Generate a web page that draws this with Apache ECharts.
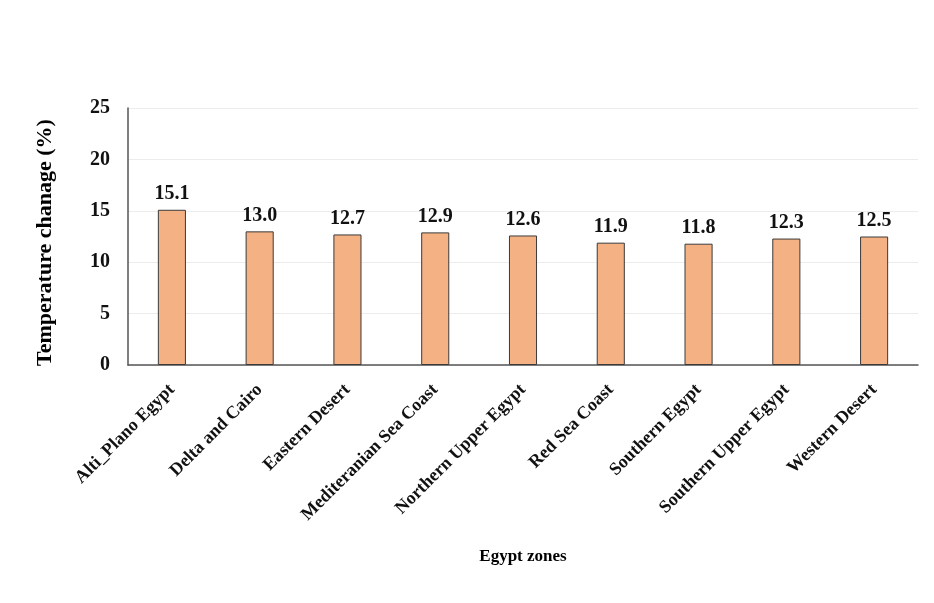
<!DOCTYPE html>
<html>
<head>
<meta charset="utf-8">
<script src="https://cdn.jsdelivr.net/npm/echarts@6/dist/echarts.min.js"></script>
<style>
  html, body { margin: 0; padding: 0; background: #ffffff; }
  #chart { width: 934px; height: 603px; }
</style>
</head>
<body>
<div id="chart"></div>
<script>
// Egypt zones and their temperature change (%)
const zones = [
  'Alti_Plano Egypt', 'Delta and Cairo', 'Eastern Desert', 'Mediteranian Sea Coast',
  'Northern Upper Egypt', 'Red Sea Coast', 'Southern Egypt', 'Southern Upper Egypt', 'Western Desert'
];
const tempChange = [15.1, 13.0, 12.7, 12.9, 12.6, 11.9, 11.8, 12.3, 12.5];
const yTicks = [0, 5, 10, 15, 20, 25];

const serif = '"Liberation Serif", "Times New Roman", serif';

const chart = echarts.init(document.getElementById('chart'));
chart.setOption({
  backgroundColor: '#ffffff',
  animation: false,
  grid: { left: 128, right: 16, top: 108, bottom: 238, containLabel: false },
  xAxis: {
    type: 'category',
    data: zones,
    name: 'Egypt zones',
    nameLocation: 'middle',
    nameGap: 183,
    nameTextStyle: { fontFamily: serif, fontWeight: 'bold', fontSize: 17, color: '#000' },
    axisLine: { lineStyle: { color: '#555', width: 1.5 } },
    axisTick: { show: false },
    axisLabel: {
      rotate: 45, interval: 0, margin: 22,
      fontFamily: serif, fontWeight: 'bold', fontSize: 18, color: '#111'
    }
  },
  yAxis: {
    type: 'value',
    min: yTicks[0],
    max: yTicks[yTicks.length - 1],
    interval: 5,
    name: 'Temperature chanage (%)',
    nameLocation: 'middle',
    nameGap: 72,
    nameTextStyle: { fontFamily: serif, fontWeight: 'bold', fontSize: 22, color: '#000', padding: [0, 12, 0, 0] },
    axisLine: { show: true, lineStyle: { color: '#555', width: 1.5 } },
    axisTick: { show: false },
    axisLabel: { fontFamily: serif, fontWeight: 'bold', fontSize: 20, color: '#111', margin: 18 },
    splitLine: { show: true, lineStyle: { color: '#ececec', width: 1 } }
  },
  series: [{
    type: 'bar',
    data: tempChange,
    barWidth: '32%',
    itemStyle: { color: '#F4B183', borderColor: '#3a3a3a', borderWidth: 1 },
    label: {
      show: true, position: 'top', distance: 6,
      formatter: p => p.value.toFixed(1),
      fontFamily: serif, fontWeight: 'bold', fontSize: 20, color: '#111'
    }
  }]
});
</script>
</body>
</html>
